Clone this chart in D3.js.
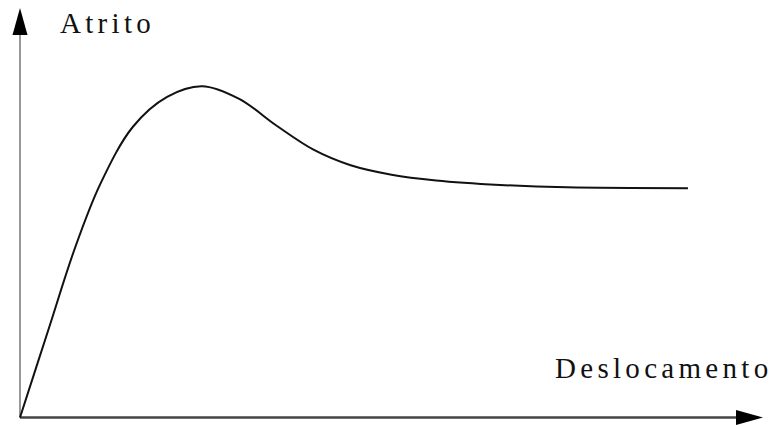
<!DOCTYPE html>
<html>
<head>
<meta charset="utf-8">
<script src="https://cdn.jsdelivr.net/npm/d3@7"></script>
<style>
  html, body { margin: 0; padding: 0; background: #ffffff; }
  .label { font-family: "Liberation Serif", "Times New Roman", serif; font-size: 29px; letter-spacing: 4.3px; fill: #111; }
</style>
</head>
<body>
<div id="chart"></div>
<script>
// Atrito x Deslocamento - friction curve

// curve values (arbitrary units, 0..100)
const deslocamento = [0, 3.8, 7.4, 10.8, 15.2, 19.8, 24.5, 29.5, 34.5, 39.5, 44.5, 50.0, 56.0, 64.6, 73.6, 89.9];
const atrito = [0, 21.3, 41.4, 57.0, 71.0, 78.3, 80.9, 77.8, 71.3, 65.4, 61.6, 59.3, 57.9, 56.8, 56.2, 56.0];

const xLabel = "Deslocamento";
const yLabel = "Atrito";

const width = 784;
const height = 426;

// origin of the axes and arrow tips
const originX = 20;
const originY = 417.5;
const xEnd = 763;
const yEnd = 8;

const x = d3.scaleLinear().domain([0, 100]).range([originX, xEnd]);
const y = d3.scaleLinear().domain([0, 100]).range([originY, yEnd]);

const svg = d3.select("#chart").append("svg")
  .attr("width", width)
  .attr("height", height);

// y axis (lighter gray line)
svg.append("line")
  .attr("x1", x(0)).attr("x2", x(0))
  .attr("y1", y(0)).attr("y2", y(100) + 20)
  .attr("stroke", "#999")
  .attr("stroke-width", 2);

// x axis (darker line)
svg.append("line")
  .attr("x1", x(0)).attr("x2", x(100) - 20)
  .attr("y1", y(0)).attr("y2", y(0))
  .attr("stroke", "#444")
  .attr("stroke-width", 2.5);

// arrow heads
svg.append("path")
  .attr("d", `M${x(0)},${y(100)} L${x(0) - 7.5},${y(100) + 27} L${x(0) + 7.5},${y(100) + 27} Z`)
  .attr("fill", "#000");

svg.append("path")
  .attr("d", `M${x(100)},${y(0)} L${x(100) - 27},${y(0) - 7.5} L${x(100) - 27},${y(0) + 7.5} Z`)
  .attr("fill", "#000");

// the friction curve
const points = deslocamento.map((d, i) => [d, atrito[i]]);
const line = d3.line()
  .x(d => x(d[0]))
  .y(d => y(d[1]))
  .curve(d3.curveCatmullRom.alpha(0.5));

svg.append("path")
  .datum(points)
  .attr("d", line)
  .attr("fill", "none")
  .attr("stroke", "#111")
  .attr("stroke-width", 2);

// labels
svg.append("text")
  .attr("class", "label")
  .attr("x", 60)
  .attr("y", 32.5)
  .text(yLabel);

svg.append("text")
  .attr("class", "label")
  .attr("x", 555)
  .attr("y", 378)
  .text(xLabel);
</script>
</body>
</html>
